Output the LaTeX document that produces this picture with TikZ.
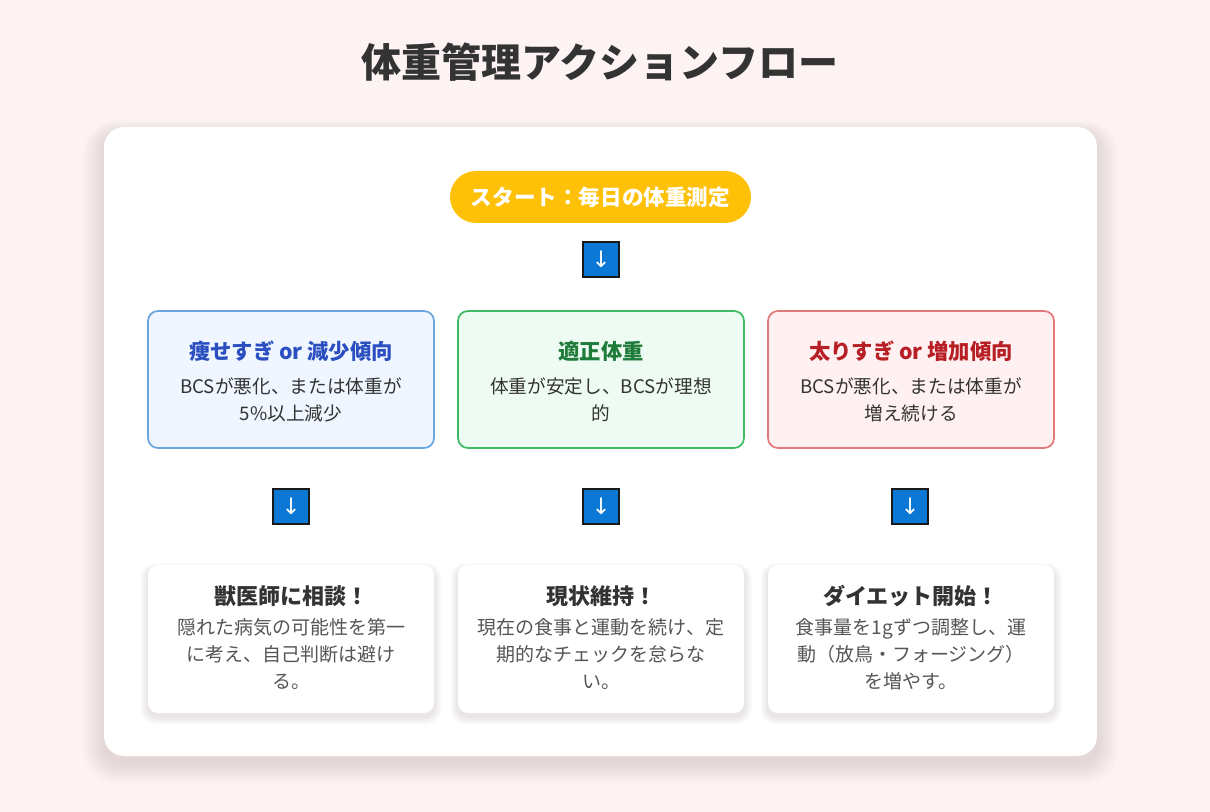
\documentclass[tikz,border=0pt]{standalone}
\usepackage{fontspec}
\setmainfont{Noto Sans CJK JP}
\newfontfamily\arrowfont{DejaVu Sans}
\definecolor{bgc}{HTML}{FDF3F3}
\definecolor{pillc}{HTML}{FFC107}
\definecolor{arrc}{HTML}{0A78D4}
\definecolor{lfill}{HTML}{EFF6FF}
\definecolor{ldraw}{HTML}{6AA6DE}
\definecolor{ltext}{HTML}{2B4FC0}
\definecolor{mfill}{HTML}{EEFBF2}
\definecolor{mdraw}{HTML}{3DBA62}
\definecolor{mtext}{HTML}{1E7B3A}
\definecolor{rfill}{HTML}{FFF1F1}
\definecolor{rdraw}{HTML}{E07A7A}
\definecolor{rtext}{HTML}{B71F25}
\definecolor{dark}{HTML}{333333}
\definecolor{mid}{HTML}{555555}
\definecolor{shadc}{HTML}{6A4A4A}
\tikzset{
  arrbox/.style={draw=black!90, line width=1.2pt, fill=arrc, minimum width=27pt, minimum height=26pt, inner sep=0pt, text=white, font=\arrowfont\fontsize{17pt}{17pt}\selectfont},
  condbox/.style={rounded corners=7.5pt, line width=1.3pt, minimum width=214.5pt, minimum height=102.75pt, inner sep=0pt},
  condtitle/.style={font=\bfseries\fontsize{16pt}{18pt}\selectfont},
  condbody/.style={text=dark, align=center, font=\fontsize{14pt}{20.25pt}\selectfont},
  actcard/.style={fill=white, rounded corners=7.5pt, minimum width=214.5pt, minimum height=111pt, inner sep=0pt},
  acttitle/.style={text=dark, font=\bfseries\fontsize{16.5pt}{18pt}\selectfont},
  actbody/.style={text=mid, align=center, font=\fontsize{14.25pt}{20.25pt}\selectfont}
}
% soft shadow: #1 x1, #2 y1, #3 x2, #4 y2 (px), #5 y offset, #6 radius, #7 steps, #8 opacity per step
\newcommand{\softshadow}[8]{%
  \foreach \k in {1,...,#7}{%
    \fill[shadc, opacity=#8, rounded corners=#6+\k*0.75pt]
      (#1-\k*1.5, #2+#5-\k*1.0) rectangle (#3+\k*1.5, #4+#5+\k*1.5);
  }%
}
\begin{document}
\begin{tikzpicture}[x=0.75pt,y=-0.75pt]
\fill[bgc] (0,0) rectangle (1210,812);
\useasboundingbox (0,0) rectangle (1210,812);
\softshadow{104}{127}{1097}{756}{7}{15pt}{14}{0.009}
\node[fill=white, rounded corners=15pt, minimum width=744.75pt, minimum height=471.75pt, inner sep=0pt] (card) at (600.5,441.5) {};
\node[text=dark, font=\bfseries\fontsize{30pt}{36pt}\selectfont] (title) at (600,62) {体重管理アクションフロー};
\node[fill=pillc, rounded corners=19.5pt, minimum width=225.75pt, minimum height=39pt, inner sep=0pt, text=white, font=\bfseries\fontsize{16.2pt}{18pt}\selectfont] (start) at (600.5,197) {スタート：毎日の体重測定};
\node[arrbox] (a0) at (601,259.5) {↓};
% condition boxes
\node[condbox, fill=lfill, draw=ldraw] (b1) at (291,379.5) {};
\node[condbox, fill=mfill, draw=mdraw] (b2) at (601,379.5) {};
\node[condbox, fill=rfill, draw=rdraw] (b3) at (911,379.5) {};
\node[condtitle, text=ltext] (t1) at (291,351) {痩せすぎ or 減少傾向};
\node[condtitle, text=mtext] (t2) at (601,351) {適正体重};
\node[condtitle, text=rtext] (t3) at (911,351) {太りすぎ or 増加傾向};
\node[condbody] (d1) at (291,399.5) {BCSが悪化、または体重が\\5\%以上減少};
\node[condbody] (d2) at (601,399.5) {体重が安定し、BCSが理想\\的};
\node[condbody] (d3) at (911,399.5) {BCSが悪化、または体重が\\増え続ける};
% arrows
\node[arrbox] (a1) at (291,506.5) {↓};
\node[arrbox] (a2) at (601,506.5) {↓};
\node[arrbox] (a3) at (910,506.5) {↓};
% action cards
\softshadow{148}{565}{434}{713}{3.5}{7.5pt}{5}{0.028}
\softshadow{458}{565}{744}{713}{3.5}{7.5pt}{5}{0.028}
\softshadow{768}{565}{1054}{713}{3.5}{7.5pt}{5}{0.028}
\node[actcard] (c1) at (291,639) {};
\node[actcard] (c2) at (601,639) {};
\node[actcard] (c3) at (911,639) {};
\node[acttitle] (ct1) at (291,596) {獣医師に相談！};
\node[acttitle] (ct2) at (601,596) {現状維持！};
\node[acttitle] (ct3) at (911,596) {ダイエット開始！};
\node[actbody] (cb1) at (291,654) {隠れた病気の可能性を第一\\に考え、自己判断は避け\\る。};
\node[actbody] (cb2) at (601,654) {現在の食事と運動を続け、定\\期的なチェックを怠らな\\い。};
\node[actbody] (cb3) at (911,654) {食事量を1gずつ調整し、運\\動（放鳥・フォージング）\\を増やす。};
\end{tikzpicture}
\end{document}
